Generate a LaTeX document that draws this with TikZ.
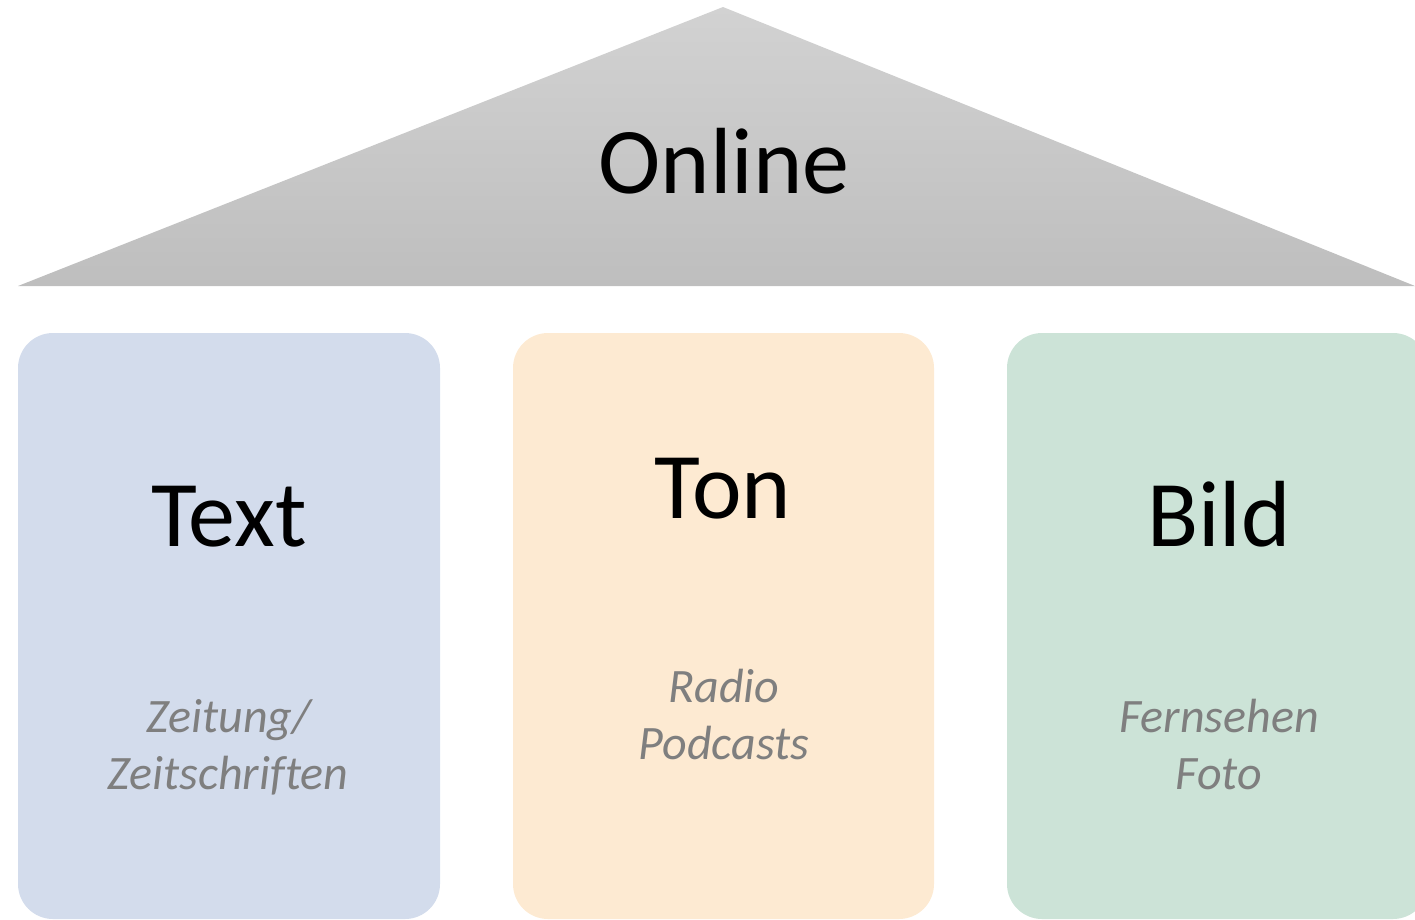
\documentclass[tikz,border=0pt]{standalone}
\usepackage{fontspec}
\setmainfont{Carlito}[Ligatures=NoCommon]
\definecolor{roofTop}{HTML}{D2D2D2}
\definecolor{roofBot}{HTML}{BEBEBE}
\definecolor{boxBlue}{HTML}{D3DCEC}
\definecolor{boxOrange}{HTML}{FDEAD2}
\definecolor{boxGreen}{HTML}{CCE3D7}
\definecolor{subGray}{HTML}{7F7F7F}
\tikzset{
  pillar/.style={rounded corners=35pt, draw=none},
  bigtext/.style={anchor=base, inner sep=0pt, font=\fontsize{94}{110}\selectfont, text=black},
  subtext/.style={anchor=base, inner sep=0pt, font=\fontsize{48}{58}\selectfont\itshape, text=subGray}
}
\begin{document}
\begin{tikzpicture}[x=1pt,y=-1pt]
\useasboundingbox (0,0) rectangle (1415,919);
\begin{scope}
\clip (0,0) rectangle (1415,919);
\shade[top color=roofTop, bottom color=roofBot] (18,286) -- (723,7) -- (1415,286) -- cycle;
\fill[pillar, boxBlue] (18,333) rectangle (440,919);
\fill[pillar, boxOrange] (513,333) rectangle (934,919);
\fill[pillar, boxGreen] (1007,333) rectangle (1428,919);
\end{scope}
\node[bigtext] (online) at (724,193) {Online};
\node[bigtext] (text) at (229,546) {Text};
\node[bigtext] (ton) at (723,518) {Ton};
\node[bigtext] (bild) at (1219,546) {Bild};
\node[subtext] (zeitung) at (229,732) {Zeitung/};
\node[subtext] (zeitschriften) at (228,789) {Zeitschrif\kern0pt ten};
\node[subtext] (radio) at (724,702) {Radio};
\node[subtext] (podcasts) at (724,759) {Podcasts};
\node[subtext] (fernsehen) at (1219,732) {Fernsehen};
\node[subtext] (foto) at (1219,789) {Foto};
\end{tikzpicture}
\end{document}
